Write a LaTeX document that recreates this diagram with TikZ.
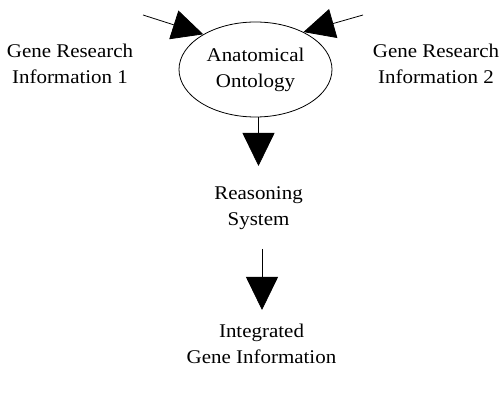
\documentclass[tikz,border=0pt]{standalone}
\usepackage{fontspec}
\setmainfont[FakeStretch=1.08]{Liberation Serif}
\usetikzlibrary{arrows.meta,shapes.geometric}
\begin{document}
\begin{tikzpicture}[x=1pt,y=-1pt,
  lbl/.style={align=center,inner sep=0pt,anchor=north,font=\fontsize{19.4}{26}\selectfont},
  arr/.style={line width=0.8pt,-{Triangle[length=31pt,width=30pt]}},
  varr/.style={line width=0.8pt,-{Triangle[length=33pt,width=32pt]}}]
\useasboundingbox (0,0) rectangle (501,395);
\node[draw,ellipse,line width=0.8pt,minimum width=153pt,minimum height=95pt,inner sep=0pt,align=center,font=\fontsize{19.4}{26}\selectfont] (ell) at (255.5,69.5) {Anatomical\\Ontology};
\node[lbl] (g1) at (70,44) {Gene Research\\Information 1};
\node[lbl] (g2) at (436,44) {Gene Research\\Information 2};
\node[lbl] (rs) at (258.5,186) {Reasoning\\System};
\node[lbl] (ig) at (261.5,324) {Integrated\\Gene Information};
\coordinate (s1) at (143,15);
\coordinate (s2) at (363,15);
\coordinate (s3) at (262,249);
\draw[arr] (s1) -- (ell.146.7);
\draw[arr] (s2) -- (ell.38.9);
\draw[varr] (ell.south -| rs.north) -- ([yshift=20pt]rs.north);
\draw[varr] (s3) -- ([yshift=14pt]ig.north -| s3);
\end{tikzpicture}
\end{document}
